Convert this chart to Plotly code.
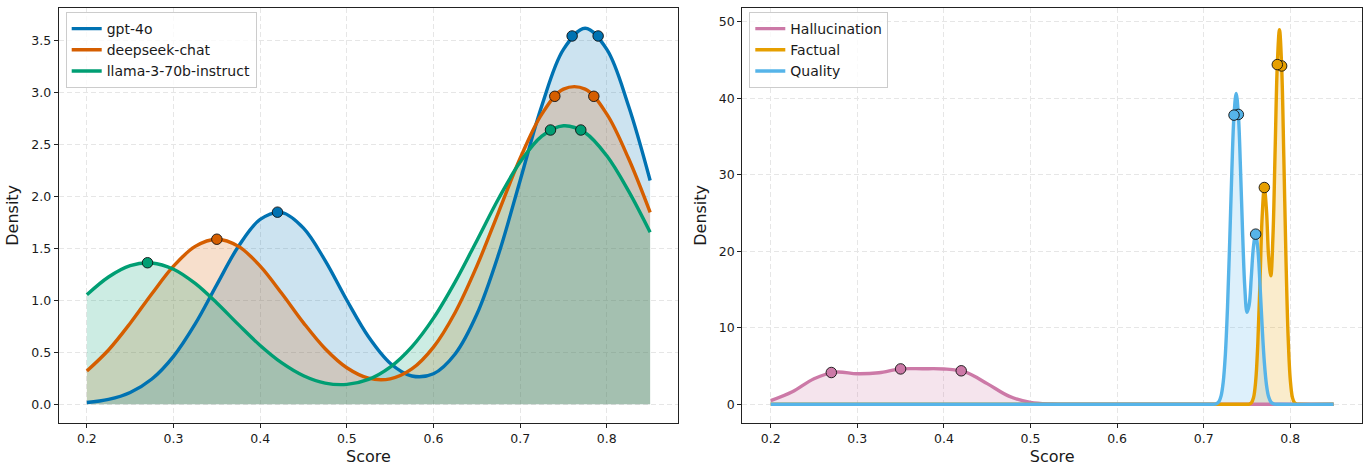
import plotly.graph_objects as go

# ---------------- data ----------------
score_grid = [0.200, 0.225, 0.250, 0.275, 0.300, 0.325, 0.350, 0.375, 0.400, 0.425,
              0.450, 0.475, 0.500, 0.525, 0.550, 0.575, 0.600, 0.625, 0.650, 0.675,
              0.700, 0.725, 0.750, 0.775, 0.800, 0.825, 0.850]

models = ["gpt-4o", "deepseek-chat", "llama-3-70b-instruct"]
gpt4o_density = [0.017, 0.047, 0.114, 0.243, 0.461, 0.773, 1.151, 1.519, 1.777, 1.843,
                 1.694, 1.381, 1.000, 0.649, 0.395, 0.272, 0.294, 0.484, 0.865, 1.440,
                 2.152, 2.870, 3.412, 3.615, 3.412, 2.870, 2.152]
deepseek_density = [0.320, 0.522, 0.779, 1.063, 1.328, 1.518, 1.587, 1.518, 1.329, 1.065,
                    0.783, 0.534, 0.351, 0.251, 0.245, 0.340, 0.550, 0.883, 1.328, 1.846,
                    2.365, 2.790, 3.030, 3.030, 2.790, 2.365, 1.845]
llama_density = [1.053, 1.224, 1.333, 1.359, 1.299, 1.162, 0.974, 0.766, 0.566, 0.398,
                 0.275, 0.204, 0.191, 0.239, 0.357, 0.552, 0.828, 1.177, 1.573, 1.976,
                 2.329, 2.578, 2.678, 2.611, 2.389, 2.052, 1.654]

gpt4o_scores = [0.42, 0.76, 0.79]
gpt4o_score_density = [1.847, 3.541, 3.541]
deepseek_scores = [0.35, 0.74, 0.785]
deepseek_score_density = [1.587, 2.961, 2.961]
llama_scores = [0.27, 0.735, 0.77]
llama_score_density = [1.361, 2.637, 2.637]

metrics = ["Hallucination", "Factual", "Quality"]
halluc_grid = score_grid
halluc_density = [0.472, 1.635, 3.340, 4.211, 3.986, 4.122, 4.626, 4.648, 4.619, 4.210,
                  2.702, 1.064, 0.247, 0.034, 0.003, 0, 0, 0, 0, 0,
                  0, 0, 0, 0, 0, 0, 0]

quality_grid = [0.2, 0.700, 0.7025, 0.705, 0.7075, 0.710, 0.7125, 0.715, 0.7175, 0.720,
                0.7225, 0.725, 0.7275, 0.730, 0.7325, 0.735, 0.7375, 0.740, 0.7425, 0.745,
                0.7475, 0.750, 0.7525, 0.755, 0.7575, 0.760, 0.7625, 0.765, 0.7675, 0.770,
                0.7725, 0.775, 0.7775, 0.780, 0.7825, 0.785, 0.85]
quality_density = [0, 0, 0, 0.0001, 0.0006, 0.004, 0.020, 0.089, 0.335, 1.059,
                   2.846, 6.500, 12.68, 21.19, 30.47, 37.82, 40.66, 37.91, 30.78, 22.16,
                   15.21, 12.03, 12.99, 16.72, 20.65, 22.25, 20.34, 15.66, 10.15, 5.527,
                   2.531, 0.974, 0.315, 0.086, 0.020, 0.004, 0]

factual_grid = [0.2, 0.750, 0.7525, 0.755, 0.7575, 0.760, 0.7625, 0.765, 0.7675, 0.770,
                0.7725, 0.775, 0.7775, 0.780, 0.7825, 0.785, 0.7875, 0.790, 0.7925, 0.795,
                0.7975, 0.800, 0.8025, 0.805, 0.8075, 0.810, 0.85]
factual_density = [0, 0.004, 0.029, 0.181, 0.845, 2.986, 7.973, 16.08, 24.51, 28.35,
                   25.36, 19.24, 16.79, 22.05, 33.30, 44.43, 48.99, 44.25, 32.45, 19.06,
                   8.817, 3.167, 0.874, 0.184, 0.029, 0.004, 0]

halluc_scores = [0.42, 0.35, 0.27]
halluc_score_density = [4.379, 4.626, 4.154]
factual_scores = [0.79, 0.785, 0.77]
factual_score_density = [44.25, 44.43, 28.35]
quality_scores = [0.76, 0.74, 0.735]
quality_score_density = [22.25, 37.91, 37.82]

x_tick_vals = [0.2, 0.3, 0.4, 0.5, 0.6, 0.7, 0.8]
x_tick_text = ["0.2", "0.3", "0.4", "0.5", "0.6", "0.7", "0.8"]
left_y_tick_vals = [0.0, 0.5, 1.0, 1.5, 2.0, 2.5, 3.0, 3.5]
left_y_tick_text = ["0.0", "0.5", "1.0", "1.5", "2.0", "2.5", "3.0", "3.5"]
right_y_tick_vals = [0, 10, 20, 30, 40, 50]
right_y_tick_text = ["0", "10", "20", "30", "40", "50"]

# ---------------- styling ----------------
model_colors = ["#0072B2", "#D55E00", "#009E73"]
model_fills = ["rgba(0,114,178,0.2)", "rgba(213,94,0,0.2)", "rgba(0,158,115,0.2)"]
metric_colors = ["#CC79A7", "#E69F00", "#56B4E9"]
metric_fills = ["rgba(204,121,167,0.2)", "rgba(230,159,0,0.2)", "rgba(86,180,233,0.2)"]

W, H = 1364, 466
fig = go.Figure()

left_series = [
    (score_grid, gpt4o_density, gpt4o_scores, gpt4o_score_density),
    (score_grid, deepseek_density, deepseek_scores, deepseek_score_density),
    (score_grid, llama_density, llama_scores, llama_score_density),
]
right_series = [
    (halluc_grid, halluc_density, halluc_scores, halluc_score_density),
    (factual_grid, factual_density, factual_scores, factual_score_density),
    (quality_grid, quality_density, quality_scores, quality_score_density),
]


def add_panel(series, names, colors, fills, xa, ya, legend):
    for (xs, ys, _, _), fc in zip(series, fills):
        fig.add_trace(go.Scatter(x=xs, y=ys, mode="lines", fill="tozeroy", fillcolor=fc,
                                 line=dict(color=fc, width=1, shape="spline", smoothing=1),
                                 showlegend=False, hoverinfo="skip", xaxis=xa, yaxis=ya))
    for (xs, ys, _, _), name, c in zip(series, names, colors):
        fig.add_trace(go.Scatter(x=xs, y=ys, mode="lines", name=name,
                                 line=dict(color=c, width=3.4, shape="spline", smoothing=1),
                                 legend=legend, xaxis=xa, yaxis=ya))
    for (_, _, px, py), c in zip(series, colors):
        fig.add_trace(go.Scatter(x=px, y=py, mode="markers", showlegend=False,
                                 marker=dict(size=10.5, color=c, line=dict(color="#111111", width=0.9)),
                                 xaxis=xa, yaxis=ya))


add_panel(left_series, models, model_colors, model_fills, "x", "y", "legend")
add_panel(right_series, metrics, metric_colors, metric_fills, "x2", "y2", "legend2")

axis_common = dict(showline=True, mirror=True, linecolor="#222222", linewidth=1.1,
                   ticks="outside", ticklen=4, tickwidth=1, tickcolor="#222222",
                   showgrid=True, gridcolor="#e6e6e6", griddash="5px,3px", gridwidth=1,
                   zeroline=False, automargin=False,
                   tickfont=dict(size=12.5, color="#1a1a1a"),
                   title_font=dict(size=16, color="#1a1a1a"))

ydom = [1 - 422.7 / H, 1 - 8 / H]
fig.update_layout(
    width=W, height=H, margin=dict(l=0, r=0, t=0, b=0),
    plot_bgcolor="white", paper_bgcolor="white",
    font=dict(family="DejaVu Sans", color="#1a1a1a"),
    xaxis=dict(domain=[58.7 / W, 678.3 / W], range=[0.1675, 0.8825],
               tickvals=x_tick_vals, ticktext=x_tick_text,
               title=dict(text="Score", standoff=6), anchor="y", **axis_common),
    yaxis=dict(domain=ydom, range=[-0.177, 3.81],
               tickvals=left_y_tick_vals, ticktext=left_y_tick_text,
               title=dict(text="Density", standoff=8), anchor="x", **axis_common),
    xaxis2=dict(domain=[742.3 / W, 1362 / W], range=[0.1672, 0.8828],
                tickvals=x_tick_vals, ticktext=x_tick_text,
                title=dict(text="Score", standoff=6), anchor="y2", **axis_common),
    yaxis2=dict(domain=ydom, range=[-2.41, 51.83],
                tickvals=right_y_tick_vals, ticktext=right_y_tick_text,
                title=dict(text="Density", standoff=8), anchor="x2", **axis_common),
    legend=dict(x=65.7 / W, y=1 - 12 / H, xanchor="left", yanchor="top",
                bgcolor="rgba(255,255,255,0.8)", bordercolor="#cccccc", borderwidth=1,
                font=dict(size=14, color="#1a1a1a"), itemwidth=30),
    legend2=dict(x=749.3 / W, y=1 - 12 / H, xanchor="left", yanchor="top",
                 bgcolor="rgba(255,255,255,0.8)", bordercolor="#cccccc", borderwidth=1,
                 font=dict(size=14, color="#1a1a1a"), itemwidth=30),
    showlegend=True,
)

fig.write_html("out.html",
               config={"displayModeBar": False},
               post_script="document.body.style.margin='0';document.body.style.overflow='hidden';")
